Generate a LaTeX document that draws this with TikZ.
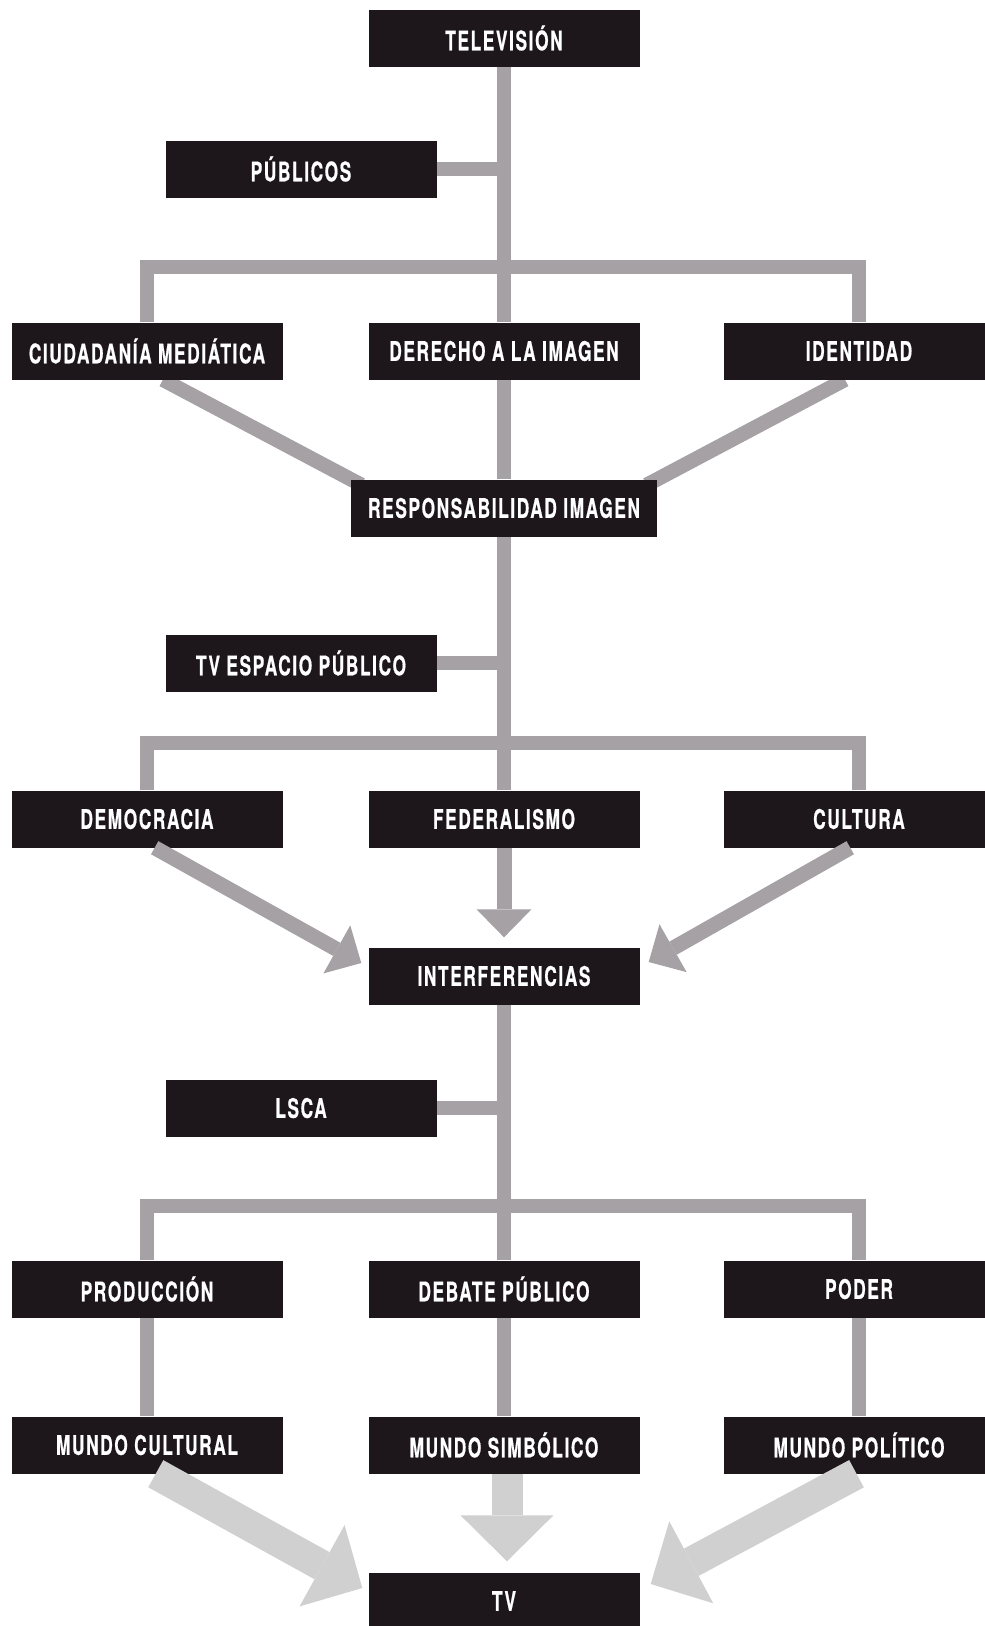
\documentclass[tikz,border=0pt]{standalone}
\usepackage{fontspec}
\newfontfamily\boxfont{TeX Gyre Heros}[FakeStretch=0.64,LetterSpace=6,BoldFeatures={FakeBold=0.6}]
\usetikzlibrary{arrows.meta,backgrounds,calc}
\definecolor{boxfill}{RGB}{29,23,28}
\definecolor{linkgray}{RGB}{165,161,164}
\definecolor{arrowgray}{RGB}{208,208,208}

\begin{document}
\begin{tikzpicture}[x=1pt,y=-1pt,
		box/.style={fill=boxfill, text=white, minimum width=271pt, minimum height=57pt, inner sep=0pt, font=\boxfont\bfseries\fontsize{27}{28}\selectfont},
		link/.style={draw=linkgray, line width=14.5pt},
		flow/.style={draw=linkgray, line width=15pt, -{Triangle[length=28pt,width=55pt,line width=0pt]}},
		bigflow/.style={draw=arrowgray, line width=31pt, -{Triangle[length=46pt,width=93pt,line width=0pt]}}]
				\useasboundingbox (0,0) rectangle (985,1626);

				% Televisión
				\node[box] (television) at (504,38) {TELEVISIÓN};
				\node[box] (publicos) at (301,169) {PÚBLICOS};

				% First row
				\node[box] (ciudadania) at (147,351) {CIUDADANÍA MEDIÁTICA};
				\node[box] (derecho) at (504,351) {DERECHO A LA IMAGEN};
				\node[box] (identidad) at (859,351) {IDENTIDAD};
				\node[box, minimum width=306pt] (responsabilidad) at (504,508) {RESPONSABILIDAD IMAGEN};
				\node[box] (espacio) at (301,663) {TV ESPACIO PÚBLICO};

				% Second row
				\node[box] (democracia) at (147,819) {DEMOCRACIA};
				\node[box] (federalismo) at (504,819) {FEDERALISMO};
				\node[box] (cultura) at (859,819) {CULTURA};
				\node[box] (interferencias) at (504,976) {INTERFERENCIAS};
				\node[box] (lsca) at (301,1108) {LSCA};

				% Third row
				\node[box] (produccion) at (147,1289) {PRODUCCIÓN};
				\node[box] (debate) at (504,1289) {DEBATE PÚBLICO};
				\node[box] (poder) at (859,1289) {PODER};

				% Mundos
				\node[box] (mcultural) at (147,1445) {MUNDO CULTURAL};
				\node[box] (msimbolico) at (504,1445) {MUNDO SIMBÓLICO};
				\node[box] (mpolitico) at (859,1445) {MUNDO POLÍTICO};
				\node[box] (tv) at (504,1601) {TV};

				\begin{pgfonlayer}{background}
				% Spine and branches
				\coordinate (bar1) at (504,267);
				\coordinate (bar2) at (504,743);
				\coordinate (bar3) at (504,1206);
				\draw[link] (television) -- (derecho);
				\draw[link] (derecho) -- (responsabilidad);
				\draw[link] (responsabilidad) -- (federalismo);
				\draw[link] (interferencias) -- (debate);
				\draw[link] (debate) -- (msimbolico);
				\draw[link] (publicos) -- (publicos -| television);
				\draw[link] (espacio) -- (espacio -| television);
				\draw[link] (lsca) -- (lsca -| television);
				\draw[link] (ciudadania) |- (bar1) -| (identidad);
				\draw[link] (democracia) |- (bar2) -| (cultura);
				\draw[link] (produccion) |- (bar3) -| (poder);
				\draw[link] (produccion) -- (mcultural);
				\draw[link] (poder) -- (mpolitico);

				% Diagonals to responsabilidad
				\draw[link, shorten >=-12pt] (ciudadania.-61) -- (responsabilidad.north west);
				\draw[link, shorten >=-12pt] (identidad.-116) -- (responsabilidad.north east);
				\end{pgfonlayer}

				% Arrows to interferencias
				\coordinate (tipl) at ($(interferencias.west)+(-7,-13)$);
				\coordinate (tipr) at ($(interferencias.east)+(9,-14)$);
				\draw[flow] (democracia.-75) -- (tipl);
				\draw[flow] (federalismo) -- ([yshift=10pt]interferencias.north);
				\draw[flow] (cultura.-107) -- (tipr);

				% Arrows to tv
				\coordinate (tvl) at ($(tv.west)+(-6,-13)$);
				\coordinate (tvr) at ($(tv.east)+(11,-17)$);
				\draw[bigflow] (mcultural.-73) -- (tvl);
				\draw[bigflow] ([xshift=3pt]msimbolico.south) -- ([xshift=3pt,yshift=11pt]tv.north);
				\draw[bigflow] (mpolitico.-95) -- (tvr);
			\end{tikzpicture}
\end{document}
